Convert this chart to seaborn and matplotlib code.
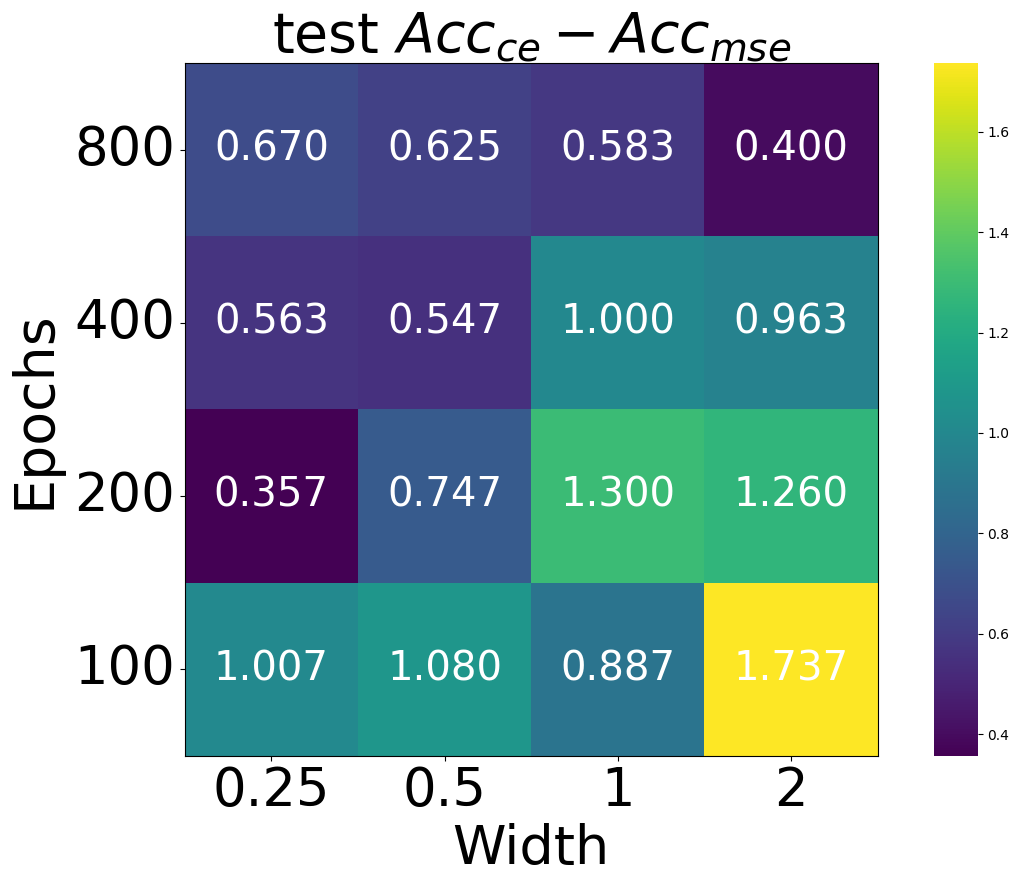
import matplotlib
matplotlib.use("Agg")
import matplotlib.pyplot as plt
import numpy as np
import pandas as pd
import seaborn as sns

widths = ["0.25", "0.5", "1", "2"]
epochs = ["800", "400", "200", "100"]
vals_800 = [0.670, 0.625, 0.583, 0.400]
vals_400 = [0.563, 0.547, 1.000, 0.963]
vals_200 = [0.357, 0.747, 1.300, 1.260]
vals_100 = [1.007, 1.080, 0.887, 1.737]

df = pd.DataFrame([vals_800, vals_400, vals_200, vals_100], index=epochs, columns=widths)

fig = plt.figure(figsize=(10.1, 8.89), dpi=100)
ax = fig.add_axes([0.183, 0.150, 0.686, 0.779])
cax = fig.add_axes([0.925, 0.150, 0.043, 0.779])

sns.heatmap(df, ax=ax, cbar_ax=cax, cmap="viridis", annot=True, fmt=".3f",
            annot_kws={"size": 29, "color": "white"}, square=False)

ax.set_title(r"test $Acc_{ce} - Acc_{mse}$", fontsize=40, pad=4)
ax.set_xlabel("Width", fontsize=39, labelpad=4)
ax.set_ylabel("Epochs", fontsize=40, labelpad=9)
ax.tick_params(axis="both", labelsize=38, length=3.5)
plt.setp(ax.get_yticklabels(), rotation=0)
for s in ax.spines.values():
    s.set_visible(True)
    s.set_linewidth(0.8)
cax.tick_params(labelsize=10)
cax.set_yticks([0.4, 0.6, 0.8, 1.0, 1.2, 1.4, 1.6])

fig.savefig("out.png", dpi=100)
